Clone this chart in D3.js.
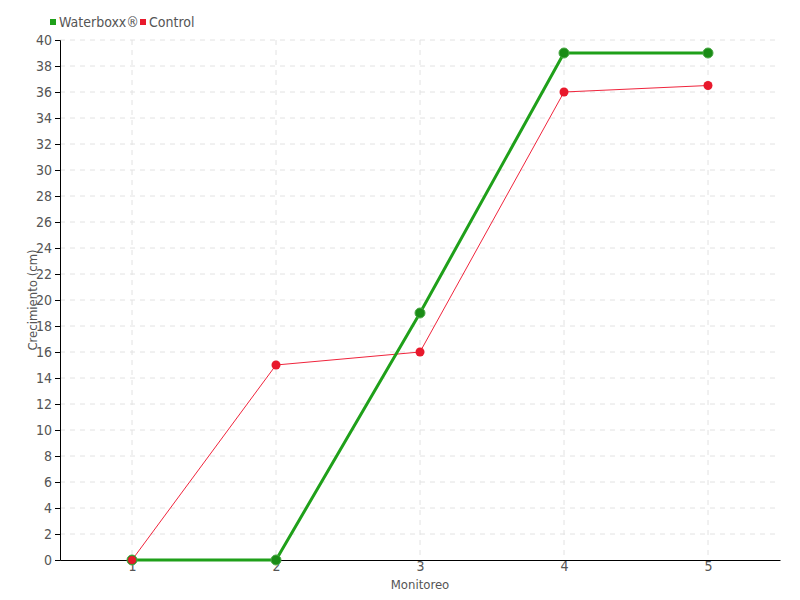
<!DOCTYPE html>
<html>
<head>
<meta charset="utf-8">
<script src="https://cdn.jsdelivr.net/npm/d3@7"></script>
<style>
  body { margin: 0; background: #fff; }
  text { font-family: "DejaVu Sans Condensed", sans-serif; fill: #555; }
</style>
</head>
<body>
<div id="chart"></div>
<script>
const monitoreo = [1, 2, 3, 4, 5];
const waterboxx = [0, 0, 19, 39, 39];
const control = [0, 15, 16, 36, 36.5];
const yTicks = d3.range(0, 41, 2);

const width = 800, height = 600;
const margin = { top: 40, right: 20, bottom: 40, left: 60 };
const font = '"DejaVu Sans Condensed", sans-serif';

const svg = d3.select("#chart").append("svg").attr("width", width).attr("height", height);

const x = d3.scaleLinear().domain([0.5, 5.5]).range([margin.left, width - margin.right]);
const y = d3.scaleLinear().domain([0, 40]).range([height - margin.bottom, margin.top]);

// grid
svg.append("g").selectAll("line").data(yTicks.slice(1)).join("line")
  .attr("x1", margin.left).attr("x2", width - margin.right)
  .attr("y1", d => y(d)).attr("y2", d => y(d))
  .style("stroke", "#e2e2e2").style("stroke-dasharray", "5,5");
svg.append("g").selectAll("line").data(monitoreo).join("line")
  .attr("x1", d => x(d)).attr("x2", d => x(d))
  .attr("y1", y(40)).attr("y2", y(0))
  .style("stroke", "#e2e2e2").style("stroke-dasharray", "5,5");

// axes
const yAxis = svg.append("g").attr("transform", `translate(${margin.left},0)`)
  .call(d3.axisLeft(y).tickValues(yTicks).tickSize(5).tickPadding(3));
const xAxis = svg.append("g").attr("transform", `translate(0,${y(0)})`)
  .call(d3.axisBottom(x).tickValues(monitoreo).tickFormat(d3.format("d")).tickSize(0).tickPadding(1));
[yAxis, xAxis].forEach(a => {
  a.select(".domain").style("stroke", "#000");
  a.selectAll(".tick line").style("stroke", "#000");
  a.selectAll("text").style("font-size", "14px").style("fill", "#555").style("font-family", font);
});

// axis titles
svg.append("text").attr("x", x(3)).attr("y", 589).attr("text-anchor", "middle")
  .style("font-size", "13px").text("Monitoreo");
svg.append("text").attr("transform", `translate(37,${y(20)}) rotate(-90)`)
  .attr("text-anchor", "middle").style("font-size", "13px").text("Crecimiento (cm)");

const line = d3.line().x((d, i) => x(monitoreo[i])).y(d => y(d));

// control series
svg.append("path").datum(control).attr("d", line)
  .style("fill", "none").style("stroke", "#f0243c").style("stroke-width", 1);
svg.append("g").selectAll("circle").data(control).join("circle")
  .attr("cx", (d, i) => x(monitoreo[i])).attr("cy", d => y(d)).attr("r", 4.5)
  .style("fill", "#e8192c");

// waterboxx series
svg.append("path").datum(waterboxx).attr("d", line)
  .style("fill", "none").style("stroke", "#1fa01a").style("stroke-width", 3);
svg.append("g").selectAll("circle").data(waterboxx).join("circle")
  .attr("cx", (d, i) => x(monitoreo[i])).attr("cy", d => y(d)).attr("r", 5)
  .style("fill", "#1a8c16").style("stroke", "#4aa845").style("stroke-width", 1);
// red marker at 1 sits on top of green one in reference
svg.append("circle").attr("cx", x(1)).attr("cy", y(control[0])).attr("r", 4)
  .style("fill", "#e8192c");

// legend
const legendItems = [
  { label: "Waterboxx®", color: "#1fa01a", x: 50 },
  { label: "Control", color: "#e8192c", x: 140 }
];
const legend = svg.append("g");
legendItems.forEach(it => {
  legend.append("rect").attr("x", it.x).attr("y", 19).attr("width", 6).attr("height", 6)
    .style("fill", it.color);
  legend.append("text").attr("x", it.x + 9).attr("y", 27)
    .style("font-size", "14px").text(it.label);
});
</script>
</body>
</html>
